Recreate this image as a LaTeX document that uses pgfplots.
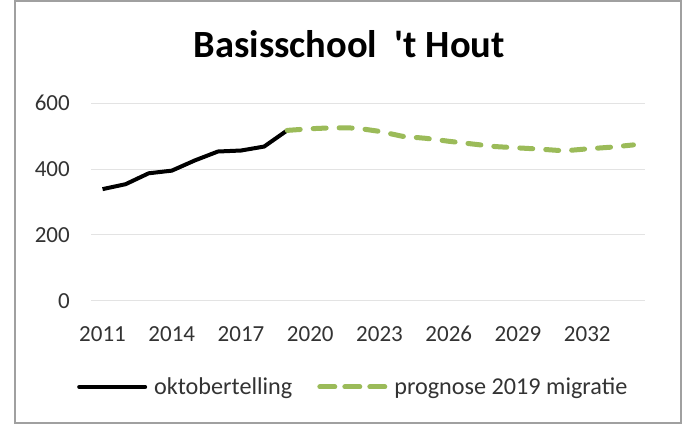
\documentclass[border=0pt]{standalone}
\usepackage{fontspec}
\setmainfont{Carlito}
\usepackage{pgfplots}
\pgfplotsset{compat=1.18}
\definecolor{prgreen}{HTML}{9BBB59}
\definecolor{lbl}{HTML}{333333}
\definecolor{gridc}{HTML}{E3E3E3}
\definecolor{framec}{HTML}{A0A0A0}
\begin{document}
\begin{tikzpicture}[x=1pt,y=1pt]
\useasboundingbox (0,0) rectangle (687,430);
\fill[white] (0,0) rectangle (687,430);
\draw[framec, line width=2pt] (15,7) rectangle (681,429);
\begin{axis}[
  at={(91pt,129pt)}, anchor=south west,
  scale only axis, width=554pt, height=198pt,
  xmin=2010.5, xmax=2034.5, ymin=0, ymax=600,
  xtick={2011,2014,2017,2020,2023,2026,2029,2032},
  ytick={0,200,400,600},
  axis line style={draw=none},
  major tick length=0pt,
  ymajorgrids, grid style={gridc, line width=1pt},
  /pgf/number format/assume math mode=true,
  /pgf/number format/1000 sep={},
  ticklabel style={font=\fontsize{23}{27}\selectfont, text=lbl},
  yticklabel style={inner sep=0pt, anchor=east, xshift=-21pt},
  xticklabel style={inner sep=0pt, anchor=north, yshift=-25pt},
  title={\textbf{Basisschool~~\textquotesingle t Hout}},
  title style={font=\fontsize{38.5}{44}\selectfont, at={(0.466,1.268)}, anchor=center, inner sep=0pt},
  legend columns=2,
  legend style={at={(-0.0253,-0.434)}, anchor=west, draw=none, fill=none, inner sep=0pt,
    font=\fontsize{24.2}{28}\selectfont, text=lbl,
    nodes={inner sep=0pt},
    /tikz/every odd column/.append style={column sep=7pt},
    /tikz/every even column/.append style={column sep=25pt}},
  legend cell align=left,
  clip=false,
]
\addplot[black, line width=4pt, line join=round,
  legend image code/.code={\draw[black, line width=4pt, line cap=round] (2pt,0pt) -- (68pt,0pt);}]
  coordinates {(2011,339) (2012,354) (2013,387) (2014,395) (2015,426) (2016,453) (2017,456) (2018,468) (2019,517)};
\addlegendentry{oktobertelling}
\addplot[prgreen, line width=5pt, line cap=round, line join=round, dash pattern=on 13pt off 13pt,
  legend image code/.code={\draw[prgreen, line width=5pt, line cap=round, dash pattern=on 15pt off 10pt] (2.5pt,0pt) -- (67.5pt,0pt);}]
  coordinates {(2019,517) (2020,522) (2021,525) (2022,524) (2023,514) (2024,499) (2025,493) (2026,484) (2027,476) (2028,468) (2029,464) (2030,460) (2031,455) (2032,461) (2033,466) (2034,473)};
\addlegendentry{prognose 2019 migratie}
\end{axis}
\end{tikzpicture}
\end{document}
